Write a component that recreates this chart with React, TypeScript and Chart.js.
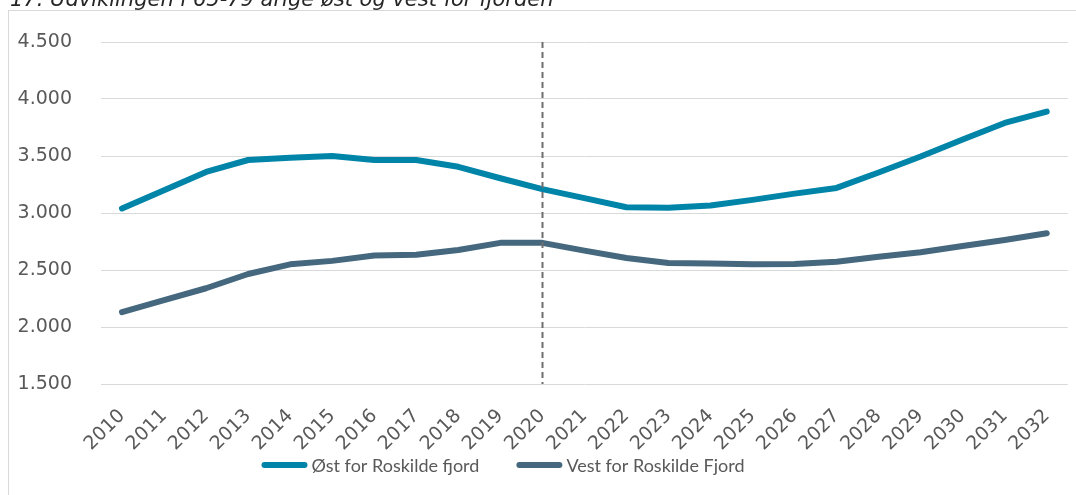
import React, { useEffect, useRef } from 'react';
import { Chart, registerables } from 'chart.js';

Chart.register(...registerables);

const chartTitle = '17. Udviklingen i 65-79 årige øst og vest for fjorden';
const years = ['2010', '2011', '2012', '2013', '2014', '2015', '2016', '2017', '2018', '2019', '2020', '2021', '2022', '2023', '2024', '2025', '2026', '2027', '2028', '2029', '2030', '2031', '2032'];
const ostValues = [3040, 3200, 3360, 3465, 3485, 3500, 3465, 3465, 3405, 3305, 3210, 3130, 3050, 3045, 3065, 3115, 3170, 3220, 3355, 3495, 3645, 3790, 3890];
const vestValues = [2130, 2235, 2340, 2465, 2550, 2580, 2628, 2634, 2675, 2738, 2738, 2670, 2605, 2562, 2557, 2550, 2552, 2573, 2617, 2655, 2710, 2763, 2822];
const seriesNames = ['Øst for Roskilde fjord', 'Vest for Roskilde Fjord'];
const seriesColors = ['#0085A9', '#45687E'];
const yMin = 1500;
const yMax = 4500;
const yStep = 500;
const dividerYear = '2020';

const fmt = (v: number) => String(v).replace(/\B(?=(\d{3})+(?!\d))/g, '.');

const decorPlugin = {
  id: 'decor',
  beforeDraw(chart: any) {
    const ctx = chart.ctx;
    ctx.save();
    ctx.strokeStyle = '#D9D9D9';
    ctx.lineWidth = 1;
    ctx.strokeRect(8.5, 10.5, 1200, 600);
    ctx.restore();
  },
  afterDatasetsDraw(chart: any) {
    const ctx = chart.ctx;
    const xs = chart.scales.x;
    const area = chart.chartArea;
    const x = Math.round(xs.getPixelForValue(years.indexOf(dividerYear))) + 0.5;
    ctx.save();
    ctx.strokeStyle = '#6F6F6F';
    ctx.lineWidth = 2;
    ctx.setLineDash([6, 4]);
    ctx.beginPath();
    ctx.moveTo(x, area.top);
    ctx.lineTo(x, area.bottom);
    ctx.stroke();
    ctx.restore();
  },
  afterDraw(chart: any) {
    const ctx = chart.ctx;
    ctx.save();
    // title (partly cut off at top)
    ctx.font = 'italic 21px "DejaVu Sans"';
    ctx.fillStyle = '#262626';
    ctx.textBaseline = 'alphabetic';
    ctx.textAlign = 'left';
    ctx.fillText(chartTitle, 10, 6);

    // legend
    ctx.font = '18px Lato';
    ctx.textBaseline = 'middle';
    const items = chart.data.datasets.map((ds: any) => ({
      label: ds.label,
      color: ds.borderColor,
      w: ctx.measureText(ds.label).width,
    }));
    const sample = 46;
    const gapText = 4;
    const gapItem = 37;
    let total = 0;
    items.forEach((it: any, i: number) => {
      total += sample + gapText + it.w + (i > 0 ? gapItem : 0);
    });
    const cy = 465;
    let x = 503 - total / 2;
    items.forEach((it: any) => {
      ctx.strokeStyle = it.color;
      ctx.lineWidth = 6;
      ctx.lineCap = 'round';
      ctx.beginPath();
      ctx.moveTo(x + 3, cy);
      ctx.lineTo(x + sample - 3, cy);
      ctx.stroke();
      ctx.fillStyle = '#595959';
      ctx.fillText(it.label, x + sample + gapText, cy + 1);
      x += sample + gapText + it.w + gapItem;
    });
    ctx.restore();
  },
};

export default function App() {
  const ref = useRef<HTMLCanvasElement | null>(null);
  useEffect(() => {
    if (!ref.current) return;
    const tickFont = { family: '"DejaVu Sans"', size: 19 };
    const chart = new Chart(ref.current, {
      type: 'line',
      data: {
        labels: years,
        datasets: [
          {
            label: seriesNames[0],
            data: ostValues,
            borderColor: seriesColors[0],
            backgroundColor: seriesColors[0],
            borderWidth: 6,
            pointRadius: 0,
            tension: 0,
            borderCapStyle: 'round',
            borderJoinStyle: 'round',
          },
          {
            label: seriesNames[1],
            data: vestValues,
            borderColor: seriesColors[1],
            backgroundColor: seriesColors[1],
            borderWidth: 6,
            pointRadius: 0,
            tension: 0,
            borderCapStyle: 'round',
            borderJoinStyle: 'round',
          },
        ],
      },
      options: {
        animation: false,
        responsive: false,
        maintainAspectRatio: false,
        layout: { padding: { top: 42, right: 6, bottom: 0, left: 0 } },
        plugins: {
          legend: { display: false },
          title: { display: false },
          tooltip: { enabled: false },
        },
        scales: {
          x: {
            type: 'category',
            offset: true,
            grid: { display: false },
            border: { display: false },
            ticks: {
              minRotation: 45,
              maxRotation: 45,
              autoSkip: false,
              padding: 13,
              color: '#595959',
              font: tickFont,
            },
            afterFit: (s: any) => {
              s.height = 111;
            },
          },
          y: {
            min: yMin,
            max: yMax,
            ticks: {
              stepSize: yStep,
              padding: 29,
              color: '#595959',
              font: tickFont,
              callback: (v: any) => fmt(Number(v)),
            },
            grid: { color: '#D9D9D9', lineWidth: 1, drawTicks: false },
            border: { display: false },
            afterFit: (s: any) => {
              s.width = 101;
            },
          },
        },
      },
      plugins: [decorPlugin],
    } as any);
    return () => chart.destroy();
  }, []);
  return (
    <div style={{ position: 'absolute', left: 0, top: 0, width: 1076, height: 495, overflow: 'hidden', background: '#fff' }}>
      <canvas ref={ref} width={1076} height={495} style={{ display: 'block' }} />
    </div>
  );
}
